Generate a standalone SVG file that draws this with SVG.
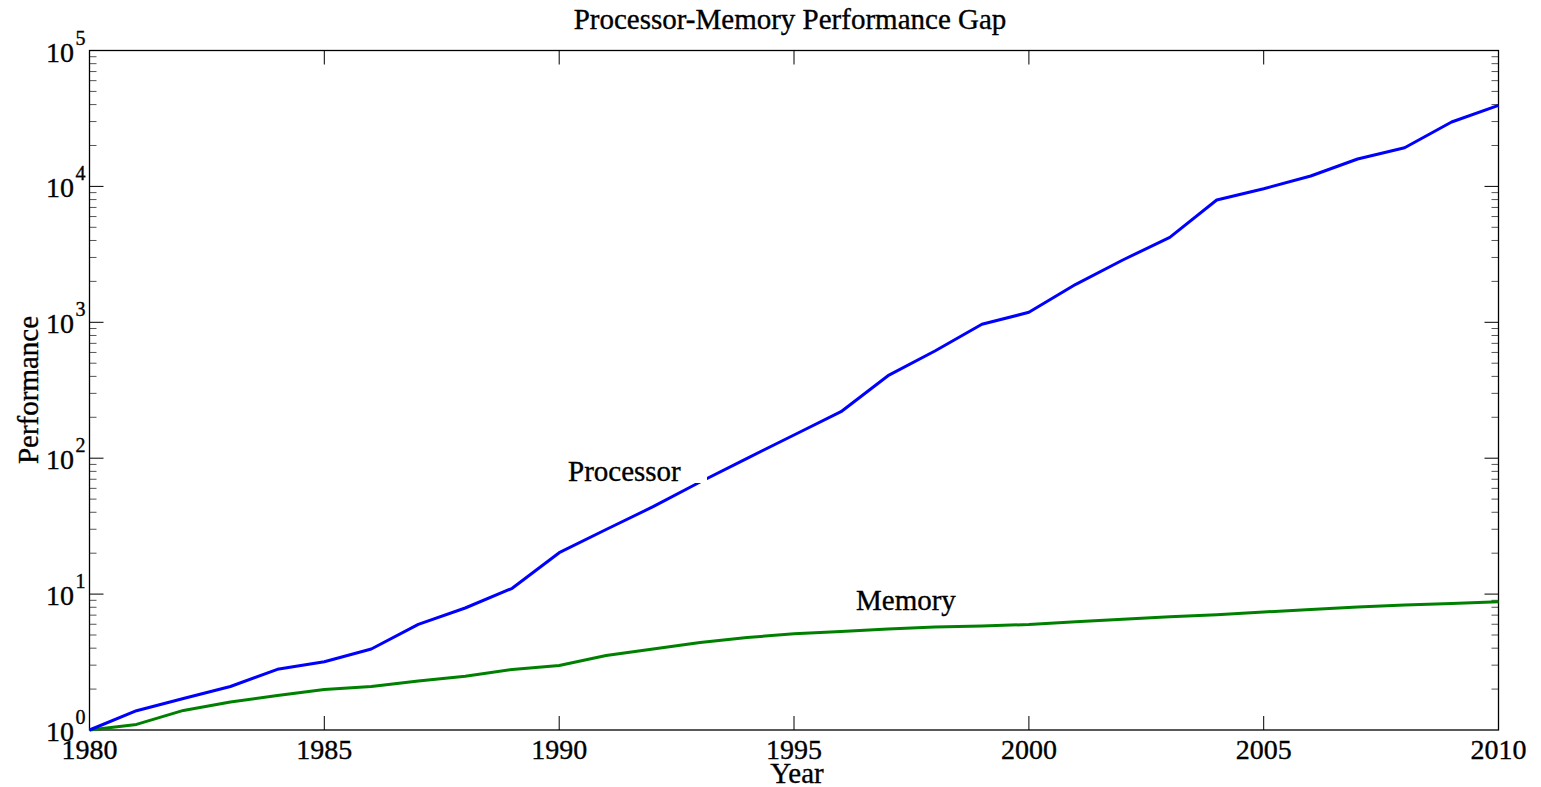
<svg xmlns="http://www.w3.org/2000/svg" width="1541" height="787" viewBox="0 0 1541 787">
<style>
text{font-family:"Liberation Serif","Times New Roman",serif;fill:#000;stroke:#000;stroke-width:0.35}
.t{font-size:28px}
.sup{font-size:20px}
.lbl{font-size:29px}
.minor{stroke:#555;stroke-width:1;fill:none}
.major{stroke:#000;stroke-width:1;fill:none}
.box{stroke:#000;stroke-width:1.3;fill:none}
.proc{stroke:#0000ff;stroke-width:3;fill:none;stroke-linejoin:round}
.mem{stroke:#008000;stroke-width:3;fill:none;stroke-linejoin:round}
</style>
<rect x="0" y="0" width="1541" height="787" fill="#fff"/>
<g id="axes">
<path class="minor" d="M89.5 689.09h7M89.5 665.16h7M89.5 648.18h7M89.5 635.01h7M89.5 624.25h7M89.5 615.15h7M89.5 607.27h7M89.5 600.32h7M89.5 553.19h7M89.5 529.26h7M89.5 512.28h7M89.5 499.11h7M89.5 488.35h7M89.5 479.25h7M89.5 471.37h7M89.5 464.42h7M89.5 417.29h7M89.5 393.36h7M89.5 376.38h7M89.5 363.21h7M89.5 352.45h7M89.5 343.35h7M89.5 335.47h7M89.5 328.52h7M89.5 281.39h7M89.5 257.46h7M89.5 240.48h7M89.5 227.31h7M89.5 216.55h7M89.5 207.45h7M89.5 199.57h7M89.5 192.62h7M89.5 145.49h7M89.5 121.56h7M89.5 104.58h7M89.5 91.41h7M89.5 80.65h7M89.5 71.55h7M89.5 63.67h7M89.5 56.72h7"/>
<path class="minor" d="M1498.5 689.09h-7M1498.5 665.16h-7M1498.5 648.18h-7M1498.5 635.01h-7M1498.5 624.25h-7M1498.5 615.15h-7M1498.5 607.27h-7M1498.5 600.32h-7M1498.5 553.19h-7M1498.5 529.26h-7M1498.5 512.28h-7M1498.5 499.11h-7M1498.5 488.35h-7M1498.5 479.25h-7M1498.5 471.37h-7M1498.5 464.42h-7M1498.5 417.29h-7M1498.5 393.36h-7M1498.5 376.38h-7M1498.5 363.21h-7M1498.5 352.45h-7M1498.5 343.35h-7M1498.5 335.47h-7M1498.5 328.52h-7M1498.5 281.39h-7M1498.5 257.46h-7M1498.5 240.48h-7M1498.5 227.31h-7M1498.5 216.55h-7M1498.5 207.45h-7M1498.5 199.57h-7M1498.5 192.62h-7M1498.5 145.49h-7M1498.5 121.56h-7M1498.5 104.58h-7M1498.5 91.41h-7M1498.5 80.65h-7M1498.5 71.55h-7M1498.5 63.67h-7M1498.5 56.72h-7"/>
<path class="major" d="M89.5 594.1h14M89.5 458.2h14M89.5 322.3h14M89.5 186.4h14M1498.5 594.1h-14M1498.5 458.2h-14M1498.5 322.3h-14M1498.5 186.4h-14M324.3 730v-14M559.2 730v-14M794 730v-14M1028.9 730v-14M1263.7 730v-14M324.3 50.5v14M559.2 50.5v14M794 50.5v14M1028.9 50.5v14M1263.7 50.5v14"/>
<rect class="box" x="89.5" y="50.5" width="1409" height="679.5"/>
</g>
<g id="ytick-labels">
<text class="t" x="74" y="741" text-anchor="end">10</text><text class="sup" x="75.5" y="724">0</text>
<text class="t" x="74" y="605" text-anchor="end">10</text><text class="sup" x="75.5" y="588">1</text>
<text class="t" x="74" y="469" text-anchor="end">10</text><text class="sup" x="75.5" y="452">2</text>
<text class="t" x="74" y="333" text-anchor="end">10</text><text class="sup" x="75.5" y="316">3</text>
<text class="t" x="74" y="197" text-anchor="end">10</text><text class="sup" x="75.5" y="180">4</text>
<text class="t" x="74" y="61.5" text-anchor="end">10</text><text class="sup" x="75.5" y="44.5">5</text>
</g>
<g id="xtick-labels" text-anchor="middle">
<text class="t" x="89.5" y="759">1980</text>
<text class="t" x="324.3" y="759">1985</text>
<text class="t" x="559.2" y="759">1990</text>
<text class="t" x="794" y="759">1995</text>
<text class="t" x="1028.9" y="759">2000</text>
<text class="t" x="1263.7" y="759">2005</text>
<text class="t" x="1498.5" y="759">2010</text>
</g>
<g id="series">
<polyline id="memory-line" class="mem" points="89.5,730 136.5,724.4 183.4,710.4 230.4,702 277.4,695.5 324.3,689.5 371.3,686.5 418.3,681 465.2,676.2 512.2,669.5 559.2,665.5 606.1,655.5 653.1,649 700.1,642.5 747.1,637.5 794,633.8 841,631.5 888,629 934.9,627 981.9,626 1028.9,624.5 1075.8,621.7 1122.8,619.3 1169.8,616.7 1216.7,614.8 1263.7,612 1310.7,609.5 1357.6,607 1404.6,605 1451.6,603.5 1498.5,601.7"/>
<polyline id="processor-line" class="proc" points="89.5,730 136.5,710.7 183.4,698.5 230.4,686.5 277.4,669.3 324.3,661.7 371.3,649 418.3,624.3 465.2,608 512.2,588.3 559.2,552.7 606.1,529.5 653.1,506.7 700.1,482 747.1,458.3 794,435 841,411.7 888,375.7 934.9,351 981.9,324.3 1028.9,312.3 1075.8,284.3 1122.8,260 1169.8,237.3 1216.7,200 1263.7,188.7 1310.7,176 1357.6,159 1404.6,147.7 1451.6,122 1498.5,105.3"/>
</g>
<g id="label-processor">
<rect x="564" y="455" width="143" height="28" fill="#fff"/>
<text class="lbl" x="568" y="481">Processor</text>
</g>
<g id="label-memory">
<text class="lbl" x="856" y="610">Memory</text>
</g>
<g id="titles">
<text class="lbl" x="790" y="29" text-anchor="middle">Processor-Memory Performance Gap</text>
<text class="lbl" x="797" y="783" text-anchor="middle">Year</text>
<text class="lbl" transform="translate(38 390) rotate(-90)" text-anchor="middle">Performance</text>
</g>
</svg>
